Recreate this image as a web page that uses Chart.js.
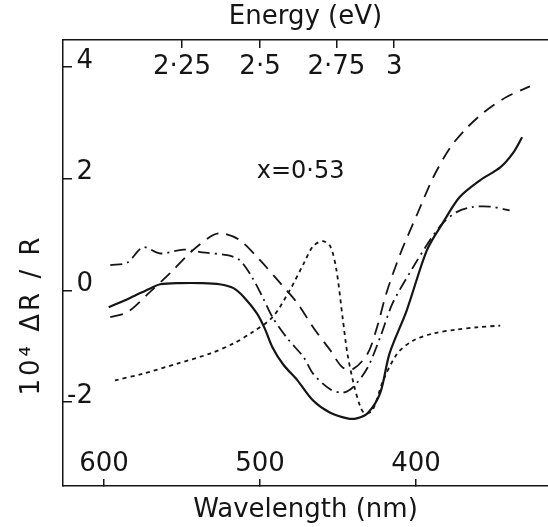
<!DOCTYPE html>
<html>
<head>
<meta charset="utf-8">
<script src="https://cdn.jsdelivr.net/npm/chart.js@4.4.1/dist/chart.umd.min.js"></script>
<style>
  body { margin: 0; background: #fff; }
</style>
</head>
<body>
<canvas id="chart" width="548" height="527"></canvas>
<script>
// wavelength (nm) / 10^4 dR/R
const solidNm  = [597, 583, 570, 564, 551, 538, 526, 517, 510, 502, 497, 492, 485, 476, 466, 455, 444, 438, 431, 423, 417, 406, 393, 383, 372, 359, 346, 338, 332];
const solidVal = [-0.30, -0.13, 0.04, 0.11, 0.13, 0.13, 0.11, 0.04, -0.13, -0.41, -0.68, -1.02, -1.33, -1.61, -1.97, -2.19, -2.29, -2.29, -2.20, -1.84, -1.13, -0.36, 0.72, 1.20, 1.67, 1.97, 2.20, 2.45, 2.74];

const dashNm  = [596, 585, 571, 558, 543, 530, 524, 513, 500, 487, 476, 466, 455, 447, 440, 431, 425, 419, 410, 399, 389, 378, 367, 355, 342, 327];
const dashVal = [-0.48, -0.39, -0.04, 0.30, 0.72, 0.99, 1.02, 0.90, 0.54, 0.13, -0.23, -0.66, -1.07, -1.38, -1.40, -1.13, -0.66, -0.05, 0.66, 1.38, 2.02, 2.56, 2.92, 3.22, 3.46, 3.65];

const dashDotNm  = [596, 585, 575, 564, 549, 537, 521, 513, 505, 498, 492, 483, 472, 466, 455, 447, 440, 431, 423, 415, 402, 391, 383, 374, 364, 353, 340];
const dashDotVal = [0.45, 0.50, 0.77, 0.66, 0.73, 0.68, 0.63, 0.54, 0.23, -0.14, -0.48, -0.84, -1.20, -1.49, -1.77, -1.83, -1.72, -1.38, -0.84, -0.23, 0.41, 0.90, 1.20, 1.40, 1.49, 1.50, 1.43];

const dotNm  = [593, 575, 553, 532, 517, 505, 492, 481, 472, 466, 460, 455, 451, 447, 444, 440, 436, 433, 428, 421, 412, 402, 389, 374, 361, 346];
const dotVal = [-1.61, -1.49, -1.31, -1.13, -0.95, -0.75, -0.48, 0.00, 0.48, 0.79, 0.88, 0.79, 0.36, -0.50, -1.13, -1.67, -2.06, -2.20, -2.15, -1.61, -1.13, -0.90, -0.77, -0.70, -0.66, -0.63];

const wavelengthTicks = [600, 500, 400];
const energyLabels = ["2·25", "2·5", "2·75", "3"];
const energyTickNm = [550, 500, 451, 414];
const yTicks = [-2, 0, 2, 4];

const compLabel = "x=0·53";
const compLabelAt = [474, 2.13];

const INK = "#151515";
const font = { family: "'DejaVu Sans', sans-serif", size: 26, lineHeight: 1 };

function series(nm, val) {
  return nm.map((x, i) => ({ x: x, y: val[i] }));
}

// y-axis title and the composition label
const extraText = {
  id: "extraText",
  afterDraw(chart) {
    const ctx = chart.ctx;
    const xs = chart.scales.x, ys = chart.scales.y;
    ctx.save();
    ctx.fillStyle = INK;
    ctx.textBaseline = "middle";
    ctx.textAlign = "center";
    ctx.font = "24px 'DejaVu Sans', sans-serif";
    ctx.fillText(compLabel, xs.getPixelForValue(compLabelAt[0]), ys.getPixelForValue(compLabelAt[1]));
    ctx.font = "26px 'DejaVu Sans', sans-serif";
    ctx.letterSpacing = "3px";
    ctx.translate(32, chart.chartArea.top + 275);
    ctx.rotate(-Math.PI / 2);
    ctx.fillText("10⁴ ΔR / R", 0, 0);
    ctx.restore();
  }
};

const line = { borderColor: INK, borderWidth: 1.8, pointRadius: 0, tension: 0.3, fill: false };

new Chart(document.getElementById("chart"), {
  type: "line",
  data: {
    datasets: [
      { ...line, data: series(solidNm, solidVal), borderWidth: 2.2 },
      { ...line, data: series(dashNm, dashVal), borderDash: [13, 8] },
      { ...line, data: series(dashDotNm, dashDotVal), borderDash: [12, 5, 2, 5] },
      { ...line, data: series(dotNm, dotVal), borderDash: [4, 4] },
    ],
  },
  options: {
    responsive: false,
    animation: false,
    layout: { padding: 0 },
    plugins: { legend: { display: false }, tooltip: { enabled: false } },
    scales: {
      x: {
        type: "linear",
        position: "bottom",
        min: 315.4,
        max: 626.3,
        reverse: true,
        afterBuildTicks: (s) => { s.ticks = wavelengthTicks.map((v) => ({ value: v })); },
        afterFit: (s) => { s.height = 41; },
        grid: { drawOnChartArea: false, tickLength: -7, color: INK, lineWidth: 1.5 },
        border: { color: INK, width: 1.5 },
        ticks: { mirror: true, padding: 9, autoSkip: false, maxRotation: 0, font: font, color: INK, callback: (v) => String(v) },
        title: { display: true, text: "Wavelength (nm)", font: font, color: INK, padding: { top: 0, bottom: 4 } },
      },
      x2: {
        type: "linear",
        position: "top",
        min: 315.4,
        max: 626.3,
        reverse: true,
        afterBuildTicks: (s) => { s.ticks = energyTickNm.map((v) => ({ value: v })); },
        afterFit: (s) => { s.height = 40; },
        grid: { drawOnChartArea: false, tickLength: -8, color: INK, lineWidth: 1.5 },
        border: { color: INK, width: 1.5 },
        ticks: { mirror: true, padding: 14, autoSkip: false, maxRotation: 0, font: font, color: INK, callback: (v, i) => energyLabels[i] },
        title: { display: true, text: "Energy (eV)", font: font, color: INK, padding: { top: 4, bottom: 0 } },
      },
      y: {
        type: "linear",
        min: -3.5,
        max: 4.48,
        afterBuildTicks: (s) => { s.ticks = yTicks.map((v) => ({ value: v })); },
        afterFit: (s) => { s.width = 63; },
        grid: { drawOnChartArea: false, tickLength: -9, color: INK, lineWidth: 1.5 },
        border: { color: INK, width: 1.5 },
        ticks: { mirror: true, crossAlign: "far", padding: 4, labelOffset: -6, font: font, color: INK, callback: (v) => String(v) },
      },
    },
  },
  plugins: [extraText],
});
</script>
</body>
</html>
